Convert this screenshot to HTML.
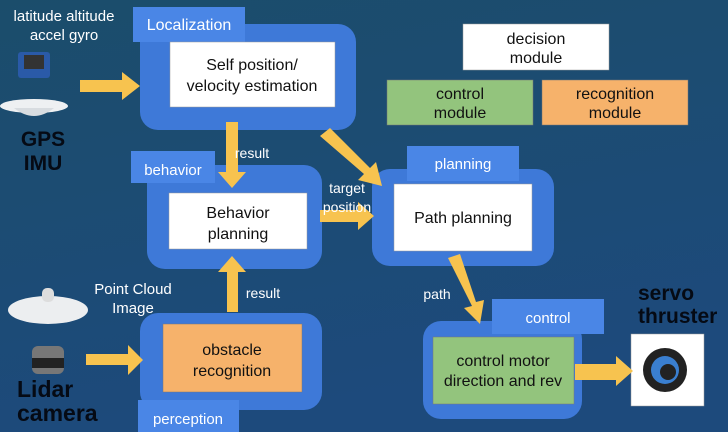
<!DOCTYPE html>
<html><head><meta charset="utf-8"><style>
body{margin:0;width:728px;height:432px;overflow:hidden;font-family:"Liberation Sans",sans-serif;}
</style></head><body>
<svg width="728" height="432" viewBox="0 0 728 432" xmlns="http://www.w3.org/2000/svg" font-family="Liberation Sans, sans-serif">
<defs><linearGradient id="bg" x1="0" y1="0" x2="0.3" y2="1"><stop offset="0" stop-color="#1b4d6b"/><stop offset="1" stop-color="#1d4a7c"/></linearGradient></defs>
<rect width="728" height="432" fill="url(#bg)"/>
<g fill="#3e79d8">
<rect x="140" y="24" width="216" height="106" rx="18"/>
<rect x="147" y="165" width="175" height="104" rx="18"/>
<rect x="372" y="169" width="182" height="97" rx="18"/>
<rect x="140" y="313" width="182" height="97" rx="18"/>
<rect x="423" y="321" width="159" height="98" rx="18"/>
</g>
<g fill="#4a86e6">
<rect x="133" y="7" width="112" height="35"/>
<rect x="131" y="151" width="84" height="32"/>
<rect x="407" y="146" width="112" height="35"/>
<rect x="492" y="299" width="112" height="35"/>
<rect x="138" y="400" width="101" height="32"/>
</g>
<g fill="#fff" stroke="#999" stroke-width="0.5">
<rect x="170" y="42" width="165" height="65"/>
<rect x="169" y="193" width="138" height="56"/>
<rect x="394" y="184" width="138" height="67"/>
<rect x="463" y="24" width="146" height="46"/>
<rect x="631" y="334" width="73" height="72"/>
</g>
<rect x="387" y="80" width="146" height="45" fill="#93c47d" stroke="#777" stroke-width="0.5"/>
<rect x="542" y="80" width="146" height="45" fill="#f6b26b" stroke="#777" stroke-width="0.5"/>
<rect x="163" y="324" width="139" height="68" fill="#f6b26b" stroke="#777" stroke-width="0.5"/>
<rect x="433" y="337" width="141" height="67" fill="#93c47d" stroke="#777" stroke-width="0.5"/>
<g fill="#f7c34f">
<polygon points="80,80 122,80 122,72 140,86 122,100 122,92 80,92"/>
<polygon points="226,122 238,122 238,172 246,172 232,188 218,172 226,172"/>
<polygon points="227,312 238,312 238,272 246,272 232,256 218,272 227,272"/>
<polygon points="86,354 128,354 128,345 143,360 128,375 128,365 86,365"/>
<polygon points="320,210 358,210 358,202 374,216 358,230 358,222 320,222"/>
<polygon points="320,136 330,128 370,168 376,162 382,186 358,180 364,174"/>
<polygon points="448,258 460,254 476,302 484,300 480,324 464,308 472,306"/>
<polygon points="575,364 616,364 616,356 633,371 616,386 616,380 575,380"/>
</g>
<g fill="#fff" font-size="15">
<text x="189" y="30" text-anchor="middle" font-size="16">Localization</text>
<text x="173" y="175" text-anchor="middle">behavior</text>
<text x="463" y="169" text-anchor="middle">planning</text>
<text x="548" y="323" text-anchor="middle">control</text>
<text x="188" y="424" text-anchor="middle">perception</text>
<text x="64" y="21" text-anchor="middle">latitude altitude</text>
<text x="64" y="40" text-anchor="middle">accel gyro</text>
<text x="252" y="158" text-anchor="middle" font-size="14">result</text>
<text x="263" y="298" text-anchor="middle" font-size="14">result</text>
<text x="347" y="193" text-anchor="middle" font-size="14">target</text>
<text x="347" y="212" text-anchor="middle" font-size="14">position</text>
<text x="437" y="299" text-anchor="middle" font-size="14">path</text>
<text x="133" y="294" text-anchor="middle">Point Cloud</text>
<text x="133" y="313" text-anchor="middle">Image</text>
</g>
<g fill="#111" font-size="16" text-anchor="middle">
<text x="252" y="70">Self position/</text>
<text x="252" y="91">velocity estimation</text>
<text x="238" y="218">Behavior</text>
<text x="238" y="239">planning</text>
<text x="463" y="223">Path planning</text>
<text x="536" y="44">decision</text>
<text x="536" y="63">module</text>
<text x="460" y="99">control</text>
<text x="460" y="118">module</text>
<text x="615" y="99">recognition</text>
<text x="615" y="118">module</text>
<text x="232" y="355">obstacle</text>
<text x="232" y="376">recognition</text>
<text x="503" y="366">control motor</text>
<text x="503" y="386">direction and rev</text>
</g>
<g fill="#050a14" font-weight="bold" font-size="21">
<text x="43" y="146" text-anchor="middle">GPS</text>
<text x="43" y="170" text-anchor="middle">IMU</text>
<text x="17" y="397" font-size="23">Lidar</text>
<text x="17" y="421" font-size="23">camera</text>
<text x="638" y="300">servo</text>
<text x="638" y="323">thruster</text>
</g>
<rect x="18" y="52" width="32" height="26" rx="3" fill="#2a5aa8"/>
<rect x="24" y="55" width="20" height="14" fill="#333"/>
<ellipse cx="34" cy="106" rx="34" ry="7" fill="#eef0f2"/>
<path d="M14 108 Q34 124 54 108 Z" fill="#d8dce0"/>
<ellipse cx="48" cy="310" rx="40" ry="14" fill="#eceef0"/>
<rect x="42" y="288" width="12" height="14" rx="5" fill="#ddd"/>
<rect x="32" y="346" width="32" height="28" rx="6" fill="#777"/>
<rect x="32" y="358" width="32" height="10" fill="#222"/>
<circle cx="665" cy="370" r="22" fill="#222"/>
<circle cx="665" cy="370" r="14" fill="#3a7fd0"/>
<circle cx="668" cy="372" r="8" fill="#222"/>
</svg>
</body></html>
